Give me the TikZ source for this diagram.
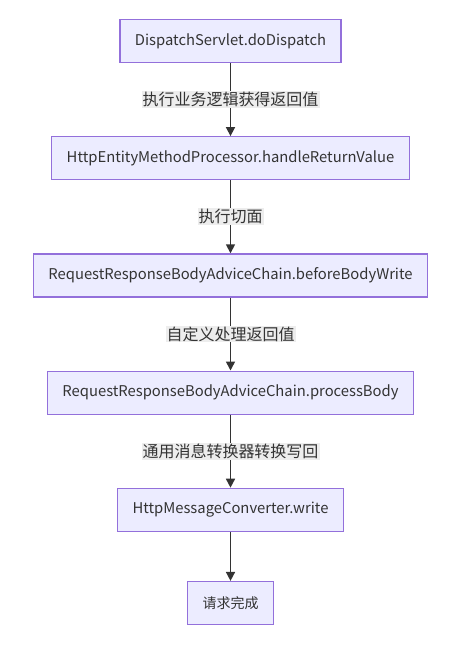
\documentclass[tikz,border=0pt]{standalone}
\usepackage{fontspec}
\setmainfont{Noto Sans CJK SC}
\usepackage{tikz}
\usetikzlibrary{arrows.meta, positioning}
\definecolor{boxfill}{HTML}{ECECFF}
\definecolor{boxline}{HTML}{9370DB}
\definecolor{edgeline}{HTML}{333333}
\definecolor{labelbg}{HTML}{EDEDED}

\begin{document}
\begin{tikzpicture}[
			x=1pt, y=1pt,
			node distance=73pt,
			stage/.style={rectangle, draw=boxline, line width=1.2pt, fill=boxfill, minimum height=43pt, inner xsep=15pt, align=center, font=\fontsize{14.8}{17}\selectfont, text=edgeline},
			arrow/.style={-{Triangle[length=9pt, width=9pt]}, line width=1.6pt, draw=edgeline},
			edgelabel/.style={fill=labelbg, inner sep=1pt, font=\fontsize{16}{18}\selectfont, text=edgeline}
		]
		\useasboundingbox (0,0) rectangle (467,-654);
		\node[stage] (dispatch) at (230.5,-41) {DispatchServlet.doDispatch};
		\node[stage, below=of dispatch] (handle) {HttpEntityMethodProcessor.handleReturnValue};
		\node[stage, below=of handle] (before) {RequestResponseBodyAdviceChain.beforeBodyWrite};
		\node[stage, below=of before] (process) {RequestResponseBodyAdviceChain.processBody};
		\node[stage, below=of process] (write) {HttpMessageConverter.write};
		\node[stage, below=49pt of write, font=\fontsize{14}{16}\selectfont] (done) {请求完成};
		
		\draw[arrow] (dispatch) -- node[edgelabel] {执行业务逻辑获得返回值} (handle);
		\draw[arrow] (handle) -- node[edgelabel] {执行切面} (before);
		\draw[arrow] (before) -- node[edgelabel] {自定义处理返回值} (process);
		\draw[arrow] (process) -- node[edgelabel] {通用消息转换器转换写回} (write);
		\draw[arrow] (write) -- (done);
		\end{tikzpicture}
\end{document}
